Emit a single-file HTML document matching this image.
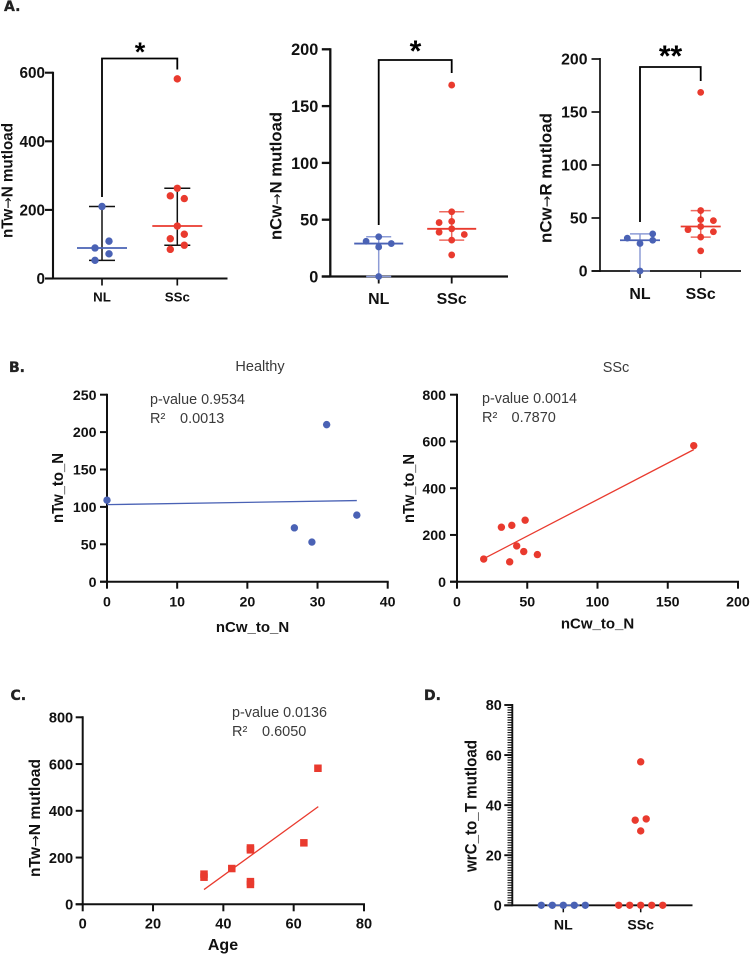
<!DOCTYPE html>
<html lang="en">
<head>
<meta charset="utf-8">
<title>Mutation load figure</title>
<style>
html,body{margin:0;padding:0;background:#fff;width:750px;height:955px;overflow:hidden}
svg{display:block}
text{font-family:"Liberation Sans",sans-serif;fill:#111}
.ylab{font-weight:bold;font-size:15.5px}
.xlab{font-weight:bold;font-size:15px;text-anchor:middle}
.note{font-size:14.5px;fill:#3a3a3a}
.ptitle{font-size:14.5px;fill:#3a3a3a;text-anchor:middle}
.panel{font-family:"DejaVu Sans",sans-serif;font-weight:bold;font-size:14px;fill:#222;stroke:#222;stroke-width:.35px}
.star{font-weight:bold;text-anchor:middle;fill:#000}
.arr{font-family:"DejaVu Sans",sans-serif;font-weight:normal;font-size:14px}
</style>
</head>
<body>
<svg id="fig" width="750" height="955" viewBox="0 0 750 955">
  <text class="panel" x="4" y="11">A.</text>
  <text class="panel" x="9" y="372">B.</text>
  <text class="panel" x="10.5" y="700">C.</text>
  <text class="panel" x="424" y="700">D.</text>

  <g id="a1">
    <text class="ylab" style="font-size:15.5px" transform="translate(12.5,238) rotate(-90)" textLength="115" lengthAdjust="spacingAndGlyphs">nTw<tspan class="arr">→</tspan>N mutload</text>
    <text class="star" x="140" y="61" font-size="27">*</text>
  </g>
  <g id="a2">
    <text class="ylab" style="font-size:17px" transform="translate(281.5,240) rotate(-90)" textLength="128" lengthAdjust="spacingAndGlyphs">nCw<tspan class="arr">→</tspan>N mutload</text>
    <text class="star" x="415.5" y="61" font-size="30">*</text>
  </g>
  <g id="a3">
    <text class="ylab" style="font-size:17px" transform="translate(551.5,243) rotate(-90)" textLength="130" lengthAdjust="spacingAndGlyphs">nCw<tspan class="arr">→</tspan>R mutload</text>
    <text class="star" x="670.5" y="66" font-size="30">**</text>
  </g>

  <g id="b1">
    <text class="ptitle" x="260" y="371">Healthy</text>
    <text class="note" x="150" y="404" textLength="95" lengthAdjust="spacingAndGlyphs">p-value 0.9534</text>
    <text class="note" x="150" y="423">R²</text>
    <text class="note" x="180" y="423">0.0013</text>
    <text class="ylab" transform="translate(63,523) rotate(-90)" textLength="70" lengthAdjust="spacingAndGlyphs">nTw_to_N</text>
    <text class="xlab" x="252.5" y="632">nCw_to_N</text>
  </g>
  <g id="b2">
    <text class="ptitle" x="616" y="372">SSc</text>
    <text class="note" x="482" y="403" textLength="95" lengthAdjust="spacingAndGlyphs">p-value 0.0014</text>
    <text class="note" x="482" y="422">R²</text>
    <text class="note" x="511.5" y="422">0.7870</text>
    <text class="ylab" transform="translate(414,523) rotate(-90)" textLength="69" lengthAdjust="spacingAndGlyphs">nTw_to_N</text>
    <text class="xlab" x="597.5" y="628.5">nCw_to_N</text>
  </g>
  <g id="c">
    <text class="note" x="232" y="717" textLength="95" lengthAdjust="spacingAndGlyphs">p-value 0.0136</text>
    <text class="note" x="232" y="736">R²</text>
    <text class="note" x="262" y="736">0.6050</text>
    <text class="ylab" style="font-size:15.5px" transform="translate(40,877) rotate(-90)" textLength="118" lengthAdjust="spacingAndGlyphs">nTw<tspan class="arr">→</tspan>N mutload</text>
    <text class="xlab" x="223" y="950" style="font-size:16px">Age</text>
  </g>
  <g id="d">
    <text class="ylab" style="font-size:16.5px" transform="translate(476.5,872) rotate(-90)" textLength="132" lengthAdjust="spacingAndGlyphs">wrC_to_T mutload</text>
  </g>
</svg>
<script>
// ---- Panel A1 data
const groupLabels = ['NL', 'SSc'];
const a1Ticks = [0, 200, 400, 600];
const a1NlValues = [210, 109, 89, 72, 53];
const a1NlSlots = [0, 1, -1, 1, -1];
const a1NlInterval = [53, 210];
const a1SscValues = [582, 263, 241, 233, 153, 129, 116, 97, 85];
const a1SscSlots = [0, 0, -1, 1, 0, 1, -1, 1, -1];
const a1SscInterval = [97, 263];
// ---- Panel A2 data
const a2Ticks = [0, 50, 100, 150, 200];
const a2NlValues = [35, 31, 29, 26, 0];
const a2NlSlots = [0, -1, 1, 0, 0];
const a2NlInterval = [0, 35];
const a2SscValues = [168.5, 57, 48.5, 47.5, 42, 39, 37, 32, 19];
const a2SscSlots = [0, 0, 0, -1, 0, -1, 1, 0, 0];
const a2SscInterval = [32, 57];
// ---- Panel A3 data
const a3Ticks = [0, 50, 100, 150, 200];
const a3NlValues = [35, 31, 29, 26, 0];
const a3NlSlots = [1, -1, 1, 0, 0];
const a3NlInterval = [0, 35];
const a3SscValues = [168.5, 57, 48.5, 47.5, 42, 39, 37, 32, 19];
const a3SscSlots = [0, 0, 0, 1, 0, -1, 1, 0, 0];
const a3SscInterval = [32, 57];
// ---- Panel B1 data
const b1XTicks = [0, 10, 20, 30, 40];
const b1YTicks = [0, 50, 100, 150, 200, 250];
const b1X = [31.3, 0, 35.6, 26.7, 29.2];
const b1Y = [210, 109, 89, 72, 53];
const b1FitX = [0, 35.6];
const b1FitY = [103, 108.5];
// ---- Panel B2 data
const b2XTicks = [0, 50, 100, 150, 200];
const b2YTicks = [0, 200, 400, 600, 800];
const b2X = [19, 31.6, 39, 48.5, 42.5, 47.5, 57.2, 37.5, 168.5];
const b2Y = [97, 233, 241, 263, 153, 129, 116, 85, 582];
const b2FitX = [19.5, 168.5];
const b2FitY = [100, 565];
// ---- Panel C data
const cXTicks = [0, 20, 40, 60, 80];
const cYTicks = [0, 200, 400, 600, 800];
const cX = [34.5, 34.5, 42.4, 47.7, 47.7, 47.7, 47.7, 62.9, 66.9];
const cY = [129, 116, 153, 241, 233, 97, 85, 263, 582];
const cFitX = [34.5, 67];
const cFitY = [63, 418];
// ---- Panel D data
const dTicks = [0, 20, 40, 60, 80];
const dMinorTicks = [1, 2, 3, 4, 5, 6, 7, 8, 9, 10, 11, 12, 13, 14, 15, 16, 17, 18, 19, 21, 22, 23, 24, 25, 26, 27, 28, 29, 30, 31, 32, 33, 34, 35, 36, 37, 38, 39, 41, 42, 43, 44, 45, 46, 47, 48, 49, 50, 51, 52, 53, 54, 55, 56, 57, 58, 59, 61, 62, 63, 64, 65, 66, 67, 68, 69, 70, 71, 72, 73, 74, 75, 76, 77, 78, 79];
const dNlValues = [0, 0, 0, 0, 0];
const dNlSlots = [-2, -1, 0, 1, 2];
const dSscValues = [57.3, 34.5, 34, 29.7, 0, 0, 0, 0, 0];
const dSscSlots = [0, 1, -1, 0, -2, -1, 0, 1, 2];

const BLUE = '#4a62b5', RED = '#e93a2e', BLUE_LIGHT = '#8d9cd6', RED_LIGHT = '#ee6a5f';
const NS = 'http://www.w3.org/2000/svg';

function linear(d0, d1, p0, p1) { return v => p0 + (v - d0) * (p1 - p0) / (d1 - d0); }
function mk(tag, parent, attrs) {
  const el = document.createElementNS(NS, tag);
  for (const k in attrs) el.setAttribute(k, attrs[k]);
  parent.appendChild(el);
  return el;
}
function median(arr) {
  const s = arr.slice().sort((a, b) => a - b);
  const m = Math.floor(s.length / 2);
  return s.length % 2 ? s[m] : (s[m - 1] + s[m]) / 2;
}
function axisLine(g, x1, y1, x2, y2, w) {
  const el = mk('line', g, { x1, y1, x2, y2, stroke: '#111', 'stroke-width': w });
  
  
}
function tickLine(g, x1, y1, x2, y2, w) {
  const el = mk('line', g, { x1, y1, x2, y2, stroke: '#111', 'stroke-width': w });
  
  
}
function tickLabel(g, x, y, s, anchor, size) {
  const el = mk('text', g, { x, y, 'text-anchor': anchor, 'font-weight': 'bold', 'font-size': size });
  el.textContent = s;
  
  
}
function yAxis(g, sx, sy, ticks, size, w, len, gap) {
  ticks.forEach(t => {
    tickLine(g, sx - len, sy(t), sx, sy(t), w);
    tickLabel(g, sx - len - gap, sy(t) + size * 0.36, String(t), 'end', size);
  });
}
function dot(g, cx, cy, r, color) {
  const el = mk('circle', g, { cx, cy, r, fill: color });
  
  
}
function square(g, cx, cy, s, color) {
  const el = mk('rect', g, { x: cx - s / 2, y: cy - s / 2, width: s, height: s, fill: color });
  
  
}
function statLine(g, x1, y1, x2, y2, color, w) {
  const el = mk('line', g, { x1, y1, x2, y2, stroke: color, 'stroke-width': w });
  
  
}
function fitLine(g, xs, ys, sx, sy, color) {
  const el = mk('line', g, { x1: sx(xs[0]), y1: sy(ys[0]), x2: sx(xs[1]), y2: sy(ys[1]), stroke: color, 'stroke-width': 1.3 });
  
  
}
function bracket(g, xl, yl, yt, xr, yr) {
  const el = mk('path', g, { d: 'M' + xl + ' ' + yl + 'V' + yt + 'H' + xr + 'V' + yr, fill: 'none', stroke: '#000', 'stroke-width': 1.8 });
  
  
}
function group(g, cx, sy, values, slots, step, r, color, interval, med, errColor, capW) {
  if (interval) {
    statLine(g, cx, sy(interval[0]), cx, sy(interval[1]), errColor, 1.5);
    statLine(g, cx - capW, sy(interval[0]), cx + capW, sy(interval[0]), errColor, 1.5);
    statLine(g, cx - capW, sy(interval[1]), cx + capW, sy(interval[1]), errColor, 1.5);
  }
  values.forEach((v, i) => dot(g, cx + slots[i] * step, sy(v), r, color));
  if (interval) statLine(g, cx - med, sy(median(values)), cx + med, sy(median(values)), color, 1.8);
}
function strip(id, c, ticks, nl, ssc) {
  const g = document.getElementById(id);
  const sy = linear(0, c.yMax, c.y0, c.yTop);
  axisLine(g, c.x0, c.y0 + 1, c.x0, c.yTop - 1, c.w);
  axisLine(g, c.x0 - c.tick, c.y0, c.xEnd, c.y0, c.w);
  yAxis(g, c.x0, sy, ticks, c.yFont, c.w, c.tick, c.gap);
  [c.nlX, c.sscX].forEach((x, i) => {
    tickLine(g, x, c.y0, x, c.y0 + 7, c.w * 0.8);
    tickLabel(g, x, c.y0 + c.labOff, groupLabels[i], 'middle', c.xFont);
  });
  group(g, c.nlX, sy, nl.v, nl.s, c.step, c.r, BLUE, nl.i, c.med, nl.e, c.capNl);
  group(g, c.sscX, sy, ssc.v, ssc.s, c.step, c.r, RED, ssc.i, c.med, ssc.e, c.capSsc);
  if (c.br) bracket(g, c.nlX, c.br[0], c.br[1], c.sscX, c.br[2]);
}
function scatter(id, c, xt, yt, xs, ys, fx, fy, color, useSquare) {
  const g = document.getElementById(id);
  const sx = linear(0, c.xMax, c.x0, c.xEnd), sy = linear(0, c.yMax, c.y0, c.yTop);
  axisLine(g, c.x0, c.y0 + 1, c.x0, c.yTop - 1, 2);
  axisLine(g, c.x0 - 7, c.y0, c.xEnd + 1, c.y0, 2);
  yAxis(g, c.x0, sy, yt, c.yFont, 2, 7, c.gap);
  xt.forEach(t => {
    tickLine(g, sx(t), c.y0, sx(t), c.y0 + 7, 2);
    tickLabel(g, sx(t), c.y0 + c.xOff, String(t), 'middle', c.yFont);
  });
  fitLine(g, fx, fy, sx, sy, color);
  xs.forEach((x, i) => useSquare ? square(g, sx(x), sy(ys[i]), 7.5, color) : dot(g, sx(x), sy(ys[i]), 3.7, color));
}

strip('a1', { x0: 53, xEnd: 227.5, y0: 278.5, yTop: 72.7, yMax: 600, nlX: 102, sscX: 177.3, step: 7, r: 3.7, med: 25, capNl: 13, capSsc: 13, yFont: 15.3, xFont: 13.3, w: 2.1, tick: 8, gap: 0, labOff: 23, br: [197, 58.5, 69.5] },
  a1Ticks, { v: a1NlValues, s: a1NlSlots, i: a1NlInterval, e: '#111' }, { v: a1SscValues, s: a1SscSlots, i: a1SscInterval, e: '#111' });
strip('a2', { x0: 330.3, xEnd: 508, y0: 276.5, yTop: 49.3, yMax: 200, nlX: 378.7, sscX: 451.7, step: 12.6, r: 3.4, med: 24.5, capNl: 12.5, capSsc: 12.5, yFont: 16.3, xFont: 15.9, w: 2.3, tick: 8.5, gap: 3.5, labOff: 27.5, br: [225, 60, 73] },
  a2Ticks, { v: a2NlValues, s: a2NlSlots, i: a2NlInterval, e: BLUE_LIGHT }, { v: a2SscValues, s: a2SscSlots, i: a2SscInterval, e: RED_LIGHT });
strip('a3', { x0: 600, xEnd: 741, y0: 271, yTop: 59, yMax: 200, nlX: 640, sscX: 700.7, step: 12.7, r: 3.4, med: 20, capNl: 10, capSsc: 10, yFont: 15.8, xFont: 15.9, w: 1.7, tick: 8.5, gap: 4, labOff: 28, br: [222, 67, 81] },
  a3Ticks, { v: a3NlValues, s: a3NlSlots, i: a3NlInterval, e: BLUE_LIGHT }, { v: a3SscValues, s: a3SscSlots, i: a3SscInterval, e: RED_LIGHT });

scatter('b1', { x0: 107, xEnd: 387.7, y0: 581.7, yTop: 394.7, xMax: 40, yMax: 250, yFont: 14.2, gap: 3.5, xOff: 25 }, b1XTicks, b1YTicks, b1X, b1Y, b1FitX, b1FitY, BLUE, false);
scatter('b2', { x0: 457, xEnd: 738, y0: 581.7, yTop: 394.7, xMax: 200, yMax: 800, yFont: 14.2, gap: 4, xOff: 25 }, b2XTicks, b2YTicks, b2X, b2Y, b2FitX, b2FitY, RED, false);
scatter('c', { x0: 82.7, xEnd: 364, y0: 904.3, yTop: 717.3, xMax: 80, yMax: 800, yFont: 14.6, gap: 2.5, xOff: 24 }, cXTicks, cYTicks, cX, cY, cFitX, cFitY, RED, true);

strip('d', { x0: 512.3, xEnd: 692.5, y0: 905.3, yTop: 705, yMax: 80, nlX: 563.3, sscX: 640.7, step: 11, r: 3.7, med: 0, capNl: 0, capSsc: 0, yFont: 14.4, xFont: 14.1, w: 1.9, tick: 8, gap: 2.5, labOff: 24 },
  dTicks, { v: dNlValues, s: dNlSlots, e: BLUE }, { v: dSscValues.slice(4), s: dSscSlots.slice(4), e: RED });
(function () {
  const g = document.getElementById('d');
  const sy = linear(0, 80, 905.3, 705);
  dMinorTicks.forEach(t => tickLine(g, 507.5, sy(t), 512.3, sy(t), 1.1));
  statLine(g, 557.8 - 11, 905.3, 568.8 + 11, 905.3, BLUE, 1.5);
  dSscValues.slice(0, 4).forEach((v, i) => dot(g, 640.7 + dSscSlots[i] * 5.5, sy(v), 3.7, RED));
})();
</script>
</body>
</html>
